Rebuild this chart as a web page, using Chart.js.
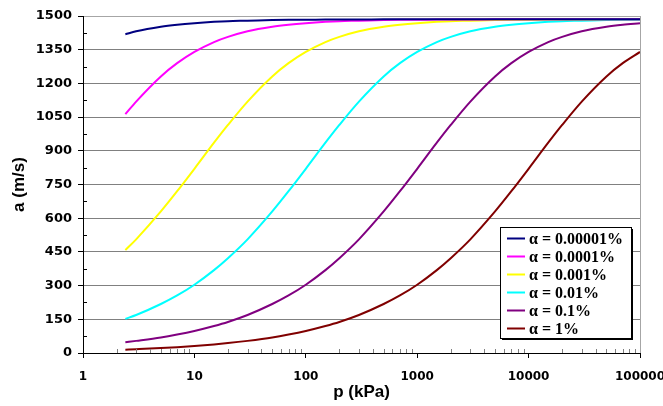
<!DOCTYPE html>
<html>
<head>
<meta charset="utf-8">
<script src="https://cdn.jsdelivr.net/npm/chart.js@4.4.1/dist/chart.umd.min.js"></script>
<style>
  body { margin: 0; background: #fff; }
  canvas { display: block; }
</style>
</head>
<body>
<canvas id="soundChart" width="663" height="406"></canvas>
<script>
// pressure p (kPa)
const pressures = [2.4, 3, 5, 7, 10, 15, 20, 30, 50, 70, 100, 150, 200, 300, 500, 700,
    1000, 1500, 2000, 3000, 5000, 7000, 10000, 15000, 20000, 30000, 50000, 70000, 100000];

// speed of sound a (m/s), one list per gas fraction
const alpha00001 = [1419, 1432, 1452, 1461, 1468, 1474, 1477, 1479, 1482, 1483, 1483, 1484, 1484, 1484, 1485, 1485,
    1485, 1485, 1485, 1485, 1485, 1485, 1485, 1485, 1485, 1485, 1485, 1485, 1485];
const alpha0001 = [1063, 1119, 1231, 1290, 1340, 1384, 1407, 1432, 1452, 1461, 1468, 1474, 1477, 1479, 1482, 1483,
    1483, 1484, 1484, 1484, 1485, 1485, 1485, 1485, 1485, 1485, 1485, 1485, 1485];
const alpha001 = [458, 506, 630, 720, 820, 936, 1015, 1119, 1231, 1290, 1340, 1384, 1407, 1432, 1452, 1461,
    1468, 1474, 1477, 1479, 1482, 1483, 1483, 1484, 1484, 1484, 1485, 1485, 1485];
const alpha01 = [152, 169, 218, 256, 304, 369, 422, 506, 630, 720, 820, 936, 1015, 1119, 1231, 1290,
    1340, 1384, 1407, 1432, 1452, 1461, 1468, 1474, 1477, 1479, 1482, 1483, 1483];
const alpha1 = [48, 54, 69, 82, 98, 120, 138, 169, 218, 256, 304, 369, 422, 506, 630, 720,
    820, 936, 1015, 1119, 1231, 1290, 1340, 1384, 1407, 1432, 1452, 1461, 1468];
const alpha10 = [15, 17, 22, 26, 31, 38, 44, 54, 69, 82, 98, 120, 138, 169, 218, 256,
    304, 369, 422, 506, 630, 720, 820, 936, 1015, 1119, 1231, 1290, 1340];

const seriesNames = ['α = 0.00001%', 'α = 0.0001%', 'α = 0.001%', 'α = 0.01%', 'α = 0.1%', 'α = 1%'];
const seriesColors = ['#000080', '#ff00ff', '#ffff00', '#00ffff', '#800080', '#800000'];
const seriesValues = [alpha00001, alpha0001, alpha001, alpha01, alpha1, alpha10];

const xTicks = [1, 10, 100, 1000, 10000, 100000];
const yMax = 1500;
const yStep = 150;

const datasets = seriesValues.map((vals, i) => ({
    label: seriesNames[i],
    data: vals.map((v, j) => ({ x: pressures[j], y: v })),
    borderColor: seriesColors[i],
    backgroundColor: seriesColors[i],
    borderWidth: 2,
    pointRadius: 0,
    cubicInterpolationMode: 'monotone',
    fill: false
}));

// small ticks, frame and the boxed legend
const extrasPlugin = {
    id: 'extras',
    afterDatasetsDraw(chart) {
        const ctx = chart.ctx;
        const x = chart.scales.x, y = chart.scales.y;
        const area = chart.chartArea;
        ctx.save();
        ctx.lineWidth = 1;

        // minor x ticks (inside)
        ctx.strokeStyle = '#808080';
        for (let d = 1; d < 100000; d *= 10) {
            for (let m = 2; m <= 9; m++) {
                const px = Math.round(x.getPixelForValue(d * m)) + 0.5;
                ctx.beginPath();
                ctx.moveTo(px, area.bottom);
                ctx.lineTo(px, area.bottom - 4);
                ctx.stroke();
            }
        }
        // minor y ticks (inside)
        ctx.strokeStyle = '#000';
        for (let v = yStep / 2; v < yMax; v += yStep) {
            const py = Math.round(y.getPixelForValue(v)) + 0.5;
            ctx.beginPath();
            ctx.moveTo(area.left, py);
            ctx.lineTo(area.left + 4, py);
            ctx.stroke();
        }
        // right frame
        ctx.strokeStyle = '#a6a6a6';
        ctx.beginPath();
        ctx.moveTo(Math.round(area.right) + 0.5, area.top);
        ctx.lineTo(Math.round(area.right) + 0.5, area.bottom);
        ctx.stroke();

        // legend box
        const bx = 500, by = 227, bw = 131, bh = 111;
        ctx.fillStyle = '#000';
        ctx.fillRect(bx + 2, by + 2, bw, bh);
        ctx.fillStyle = '#fff';
        ctx.fillRect(bx, by, bw, bh);
        ctx.strokeStyle = '#000';
        ctx.strokeRect(bx + 0.5, by + 0.5, bw, bh);

        ctx.font = 'bold 16px "Liberation Serif", "Times New Roman", serif';
        ctx.textBaseline = 'middle';
        ctx.textAlign = 'left';
        chart.data.datasets.forEach((ds, i) => {
            const ry = 238.5 + i * 18;
            ctx.strokeStyle = ds.borderColor;
            ctx.lineWidth = 2;
            ctx.beginPath();
            ctx.moveTo(507, ry);
            ctx.lineTo(525, ry);
            ctx.stroke();
            ctx.fillStyle = '#000';
            ctx.fillText(ds.label, 529, ry + 1);
        });
        ctx.restore();
    }
};

const ctx = document.getElementById('soundChart').getContext('2d');
new Chart(ctx, {
    type: 'line',
    data: { datasets: datasets },
    options: {
        responsive: false,
        animation: false,
        layout: { padding: { top: 16, right: 23, left: 0, bottom: 0 } },
        plugins: {
            legend: { display: false },
            tooltip: { enabled: false }
        },
        scales: {
            x: {
                type: 'logarithmic',
                min: 1,
                max: 100000,
                afterBuildTicks(scale) {
                    scale.ticks = xTicks.map(v => ({ value: v }));
                },
                afterFit(scale) {
                    scale.height = 53;
                    scale.paddingLeft = 0;
                    scale.paddingRight = 0;
                },
                grid: {
                    drawOnChartArea: false,
                    drawTicks: true,
                    tickLength: 5,
                    tickColor: '#000'
                },
                border: { color: '#000', width: 1 },
                ticks: {
                    autoSkip: false,
                    maxRotation: 0,
                    padding: 12,
                    color: '#000',
                    font: { family: 'DejaVu Sans', weight: 'bold', size: 12 },
                    callback: v => String(v)
                },
                title: {
                    display: true,
                    text: 'p (kPa)',
                    color: '#000',
                    padding: { top: 0, bottom: 3 },
                    font: { family: 'Liberation Sans', weight: 'bold', size: 17 }
                }
            },
            y: {
                min: 0,
                max: yMax,
                afterFit(scale) {
                    scale.width = 83;
                },
                grid: {
                    color: c => (c.tick && c.tick.value === yMax) ? '#a6a6a6' : '#808080',
                    tickLength: 5,
                    tickColor: '#000'
                },
                border: { color: '#000', width: 1 },
                ticks: {
                    stepSize: yStep,
                    padding: 6,
                    color: '#000',
                    font: { family: 'DejaVu Sans', weight: 'bold', size: 13 },
                    callback: v => String(v)
                },
                title: {
                    display: true,
                    text: 'a (m/s)',
                    color: '#000',
                    padding: { top: 9, bottom: 0 },
                    font: { family: 'Liberation Sans', weight: 'bold', size: 17 }
                }
            }
        }
    },
    plugins: [extrasPlugin]
});
</script>
</body>
</html>
